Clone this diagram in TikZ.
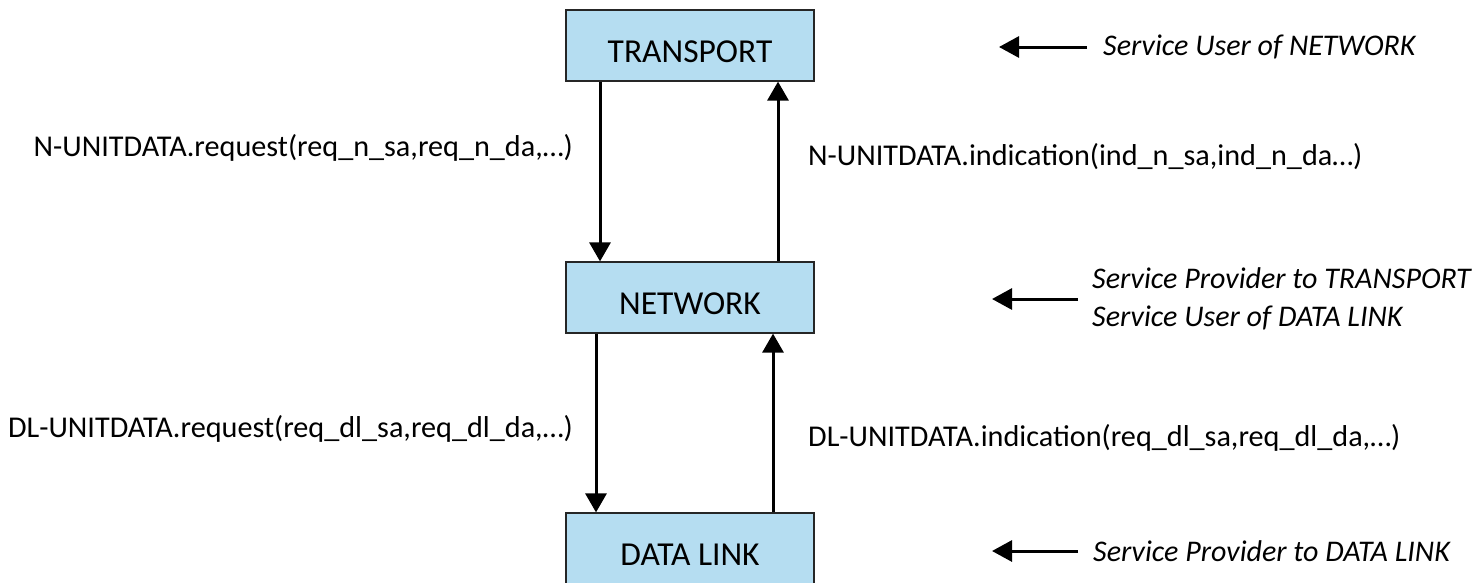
\documentclass[tikz,border=0pt]{standalone}
\usepackage{fontspec}
\setmainfont{Carlito}
\usetikzlibrary{arrows.meta}
\definecolor{layerblue}{RGB}{181,221,241}
\begin{document}
\begin{tikzpicture}[x=1pt, y=-1pt,
    layer/.style={draw=black!85, line width=1.2pt, fill=layerblue, minimum width=248pt, minimum height=71pt, font=\fontsize{33.5}{40}\selectfont, text height=33pt, text depth=0pt},
    prim/.style={font=\fontsize{30.2}{36}\selectfont, inner sep=0pt},
    role/.style={font=\fontsize{30}{38}\selectfont\itshape, align=left, anchor=west, inner sep=0pt},
    flow/.style={line width=3pt, -{Triangle[length=19pt, width=21pt]}},
    pointer/.style={line width=3pt, -{Triangle[length=20pt, width=21pt]}}]
            \useasboundingbox (0,0) rectangle (1483,582);
            \node[layer] (transport) at (690,45.5) {TRANSPORT};
            \node[layer] (network) at (690,297.5) {NETWORK};
            \node[layer] (datalink) at (690,548.5) {DATA LINK};
            \draw[flow] ([xshift=-90pt]transport.south) -- ([xshift=-90pt]network.north);
            \draw[flow] ([xshift=88pt]network.north) -- ([xshift=88pt]transport.south);
            \draw[flow] ([xshift=-94pt]network.south) -- ([xshift=-94pt]datalink.north);
            \draw[flow] ([xshift=83pt]datalink.north) -- ([xshift=83pt]network.south);
            \node[prim, anchor=base east] (nreq) at (573,156) {N-UNITDATA.request(req\_n\_sa,req\_n\_da,…)};
            \node[prim, anchor=base west] (nind) at (808,165) {N-UNITDATA.indication(ind\_n\_sa,ind\_n\_da…)};
            \node[prim, anchor=base east] (dlreq) at (573,437) {DL-UNITDATA.request(req\_dl\_sa,req\_dl\_da,…)};
            \node[prim, anchor=base west] (dlind) at (808,446) {DL-UNITDATA.indication(req\_dl\_sa,req\_dl\_da,…)};
            \node[role] (usernet) at (1103,47) {Service User of NETWORK};
            \node[role] (provtrans) at (1092,299) {Service Provider to TRANSPORT\\Service User of DATA LINK};
            \node[role] (provdl) at (1093,551) {Service Provider to DATA LINK};
            \draw[pointer] ([xshift=-16pt]usernet.west) -- ++(-88,0);
            \draw[pointer] ([xshift=-14pt]provtrans.west) -- ++(-86,0);
            \draw[pointer] ([xshift=-15pt]provdl.west) -- ++(-86,0);
        \end{tikzpicture}
\end{document}
